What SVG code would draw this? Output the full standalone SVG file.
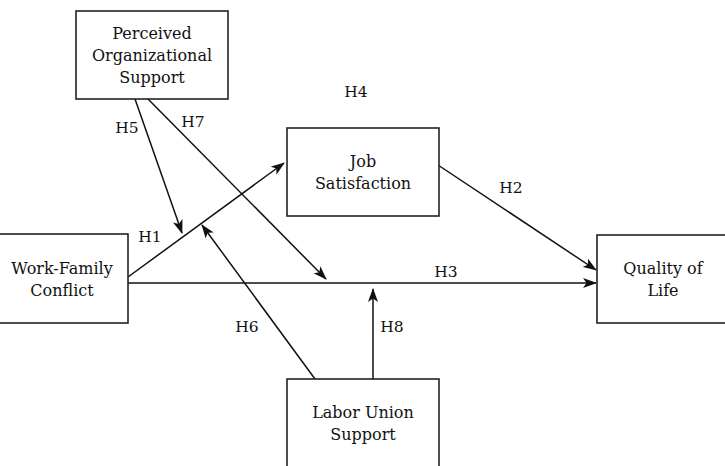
<svg xmlns="http://www.w3.org/2000/svg" width="725" height="466" viewBox="0 0 725 466">
  <style>
    .box { fill: #fff; stroke: #222; stroke-width: 1.6; }
    .node-text { font-family: "DejaVu Serif", "Liberation Serif", serif; font-size: 16px; fill: #111; text-anchor: middle; }
    .lbl { font-family: "DejaVu Serif", "Liberation Serif", serif; font-size: 15.5px; fill: #111; text-anchor: middle; }
    .edge { stroke: #111; stroke-width: 1.5; fill: none; marker-end: url(#arrow); }
  </style>
  <defs>
    <marker id="arrow" viewBox="0 0 14 10" refX="13" refY="5" markerWidth="14" markerHeight="10" markerUnits="userSpaceOnUse" orient="auto">
      <path d="M0,0 L14,5 L0,10 L3.5,5 Z" fill="#111"/>
    </marker>
  </defs>
  <rect width="725" height="466" fill="#fff"/>

  <g id="connectors">
    <!-- H1: WFC -> Job Satisfaction -->
    <line class="edge" x1="128" y1="277" x2="284" y2="163"/>
    <!-- H2: Job Satisfaction -> Quality of Life -->
    <line class="edge" x1="435" y1="163" x2="596" y2="270"/>
    <!-- H3: WFC -> Quality of Life -->
    <line class="edge" x1="128" y1="283" x2="596" y2="283"/>
    <!-- H5: POS moderates H1 -->
    <line class="edge" x1="135" y1="99" x2="182" y2="233"/>
    <!-- H7: POS moderates H3 -->
    <line class="edge" x1="148" y1="99" x2="326" y2="279"/>
    <!-- H6: Labor Union Support moderates H1 -->
    <line class="edge" x1="315" y1="379" x2="202" y2="225"/>
    <!-- H8: Labor Union Support moderates H3 -->
    <line class="edge" x1="373" y1="379" x2="373" y2="289"/>
  </g>

  <g id="labels">
    <text class="lbl" x="150" y="242">H1</text>
    <text class="lbl" x="511" y="193">H2</text>
    <text class="lbl" x="446" y="277">H3</text>
    <text class="lbl" x="356" y="97">H4</text>
    <text class="lbl" x="127" y="133">H5</text>
    <text class="lbl" x="247" y="332">H6</text>
    <text class="lbl" x="193" y="127">H7</text>
    <text class="lbl" x="392" y="332">H8</text>
  </g>

  <g id="pos">
    <rect class="box" x="76" y="11" width="152" height="88"/>
    <text class="node-text" x="152" y="39">Perceived</text>
    <text class="node-text" x="152" y="61">Organizational</text>
    <text class="node-text" x="152" y="83">Support</text>
  </g>

  <g id="job-satisfaction">
    <rect class="box" x="287" y="128" width="152" height="88"/>
    <text class="node-text" x="363" y="167">Job</text>
    <text class="node-text" x="363" y="189">Satisfaction</text>
  </g>

  <g id="work-family-conflict">
    <rect class="box" x="-24" y="234" width="152" height="89"/>
    <text class="node-text" x="62" y="274">Work-Family</text>
    <text class="node-text" x="62" y="296">Conflict</text>
  </g>

  <g id="quality-of-life">
    <rect class="box" x="597" y="235" width="152" height="88"/>
    <text class="node-text" x="663" y="274">Quality of</text>
    <text class="node-text" x="663" y="296">Life</text>
  </g>

  <g id="labor-union-support">
    <rect class="box" x="287" y="379" width="152" height="100"/>
    <text class="node-text" x="363" y="418">Labor Union</text>
    <text class="node-text" x="363" y="440">Support</text>
  </g>
</svg>
